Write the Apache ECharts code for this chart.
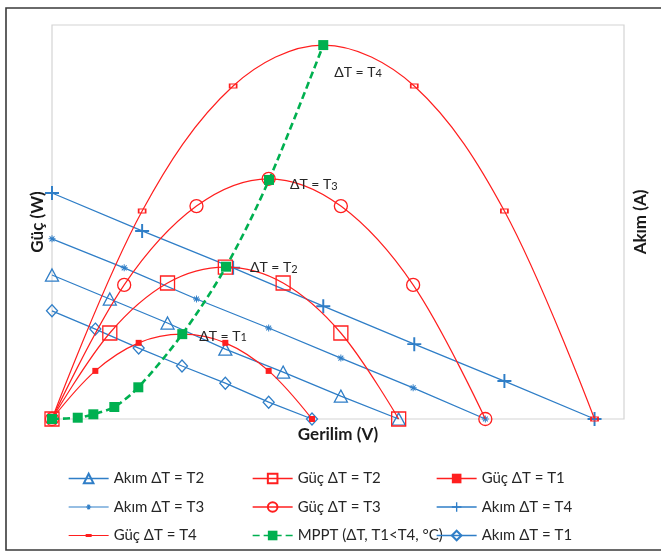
<!DOCTYPE html>
<html>
<head>
<meta charset="utf-8">
<script src="https://cdn.jsdelivr.net/npm/echarts@6/dist/echarts.min.js"></script>
<style>
html,body{margin:0;padding:0;background:#fff;}
#chart{width:661px;height:552px;}
</style>
</head>
<body>
<div id="chart"></div>
<script>
// ---- Data ----
// Gerilim (V)
const vT1 = [0, 5, 10, 15, 20, 25, 30];
const vT2 = [0, 6.67, 13.33, 20, 26.67, 33.33, 40];
const vT3 = [0, 8.33, 16.67, 25, 33.33, 41.67, 50];
const vT4 = [0, 10.4, 20.9, 31.3, 41.8, 52.2, 62.6];
// Akım (A)
const iT1 = [3.02, 2.51, 1.98, 1.48, 1.00, 0.47, 0];
const iT2 = [4.02, 3.35, 2.68, 1.95, 1.31, 0.64, 0];
const iT3 = [5.03, 4.22, 3.35, 2.54, 1.70, 0.87, 0];
const iT4 = [6.31, 5.25, 4.22, 3.15, 2.09, 1.06, 0];
// Güç (W)
const pT1 = [0, 12.7, 20.1, 22.4, 20.1, 12.7, 0];
const pT2 = [0, 22.7, 35.9, 40.1, 35.9, 22.7, 0];
const pT3 = [0, 35.4, 56.2, 63.4, 56.2, 35.4, 0];
const pT4 = [0, 54.9, 87.9, 98.7, 87.9, 54.9, 0];
// MPPT
const vMppt = [0, 2.97, 4.77, 7.19, 9.96, 15.03, 20.08, 25.04, 31.3];
const pMppt = [0, 0.34, 1.24, 3.17, 8.37, 22.4, 40.2, 63.1, 98.7];
// Peak labels: index into MPPT points, digit
const peakIdx = [5, 6, 7, 8];
const peakDigit = ['1', '2', '3', '4'];

const legendCol1 = ['Akım ΔT = T2', 'Akım ΔT = T3', 'Güç ΔT = T4'];
const legendCol2 = ['Güç ΔT = T2', 'Güç ΔT = T3', 'MPPT (ΔT, T1<T4, °C)'];
const legendCol3 = ['Güç ΔT = T1', 'Akım ΔT = T4', 'Akım ΔT = T1'];

// ---- styling ----
const BLUE = '#2F7EC7';
const RED = '#FF1F1F';
const GREEN = '#00B050';
const FONT = 'Lato, "Open Sans", sans-serif';
const zip = (a, b) => a.map((x, i) => [x, b[i]]);

const PLUS = 'path://M4.3,0h1.4v10h-1.4z M0,4.3h10v1.4h-10z';
const STAR = 'path://M4.3,0h1.4v10h-1.4z M0,4.3h10v1.4h-10z M1.0,2.0L2.0,1.0L9.0,8.0L8.0,9.0z M8.0,1.0L9.0,2.0L2.0,9.0L1.0,8.0z';
// legend icons: line with a tiny marker (corner specks keep the 40x12 box)
const T4_ICON = 'path://M0,0h0.01v0.01h-0.01z M39.99,11.99h0.01v0.01h-0.01z M0,5.5h17v1.1h-17z M17,4.4h6v3.2h-6z M23,5.5h17v1.1h-17z';
const STAR_ICON = 'path://M0,0h0.01v0.01h-0.01z M39.99,11.99h0.01v0.01h-0.01z M0,5.5h40v1.1h-40z M19.5,3.5h1v5h-1z M17.5,5.3h5v1.4h-5z M18.2,4.0L18.9,3.4L21.8,7.9L21.1,8.5z M21.1,3.4L21.8,4.0L18.9,8.5L18.2,7.9z';

function curSeries(name, v, i, symbol, size, hollow) {
  return {
    name, type: 'line', yAxisIndex: 1, data: zip(v, i),
    symbol, symbolSize: size, showAllSymbol: true,
    lineStyle: { color: BLUE, width: 1.3 },
    itemStyle: hollow ? { color: 'rgba(255,255,255,0)', borderColor: BLUE, borderWidth: 1.3 }
                      : { color: BLUE, borderWidth: 0 },
    z: 2
  };
}
function powSeries(name, v, p, symbol, size, hollow) {
  return {
    name, type: 'line', yAxisIndex: 0, data: zip(v, p),
    symbol, symbolSize: size, smooth: 0.35, showAllSymbol: true,
    lineStyle: { color: RED, width: 1.2 },
    itemStyle: hollow ? { color: 'rgba(255,255,255,0)', borderColor: RED, borderWidth: 1.3 }
                      : { color: RED, borderWidth: 0 },
    z: 3
  };
}

const labelOffsets = [[7, 2], [14, 1], [11, 5], [1, 27]];
const mpptData = zip(vMppt, pMppt).map((pt, k) => {
  const j = peakIdx.indexOf(k);
  if (j < 0) return pt;
  return {
    value: pt,
    label: {
      show: true, position: 'right', distance: 5, offset: labelOffsets[j],
      formatter: '{a|ΔT = T}{b|' + peakDigit[j] + '}',
      rich: {
        a: { fontSize: 14, fontFamily: FONT, color: '#262626' },
        b: { fontSize: 11, fontFamily: FONT, color: '#262626', verticalAlign: 'bottom', padding: [3, 0, 0, 0] }
      }
    }
  };
});

function legendItem(name) {
  if (name === 'Güç ΔT = T4') return { name, icon: T4_ICON, itemStyle: { color: RED, borderWidth: 0 } };
  if (name === 'Akım ΔT = T3') return { name, icon: STAR_ICON, itemStyle: { color: BLUE, borderWidth: 0 } };
  return { name };
}
function legend(left, names) {
  return {
    orient: 'vertical', left, top: 471, height: 120, padding: 0,
    itemWidth: 40, itemHeight: 12, itemGap: 13.5,
    data: names.map(legendItem), textStyle: { fontFamily: FONT, fontSize: 15, color: '#262626' },
    lineStyle: { width: 1.3 },
    selectedMode: false
  };
}

const axisNameStyle = { fontFamily: FONT, fontSize: 17, fontWeight: 'bold', color: '#1a1a1a' };

const option = {
  animation: false,
  backgroundColor: '#fff',
  grid: { left: 52, right: 37, top: 25, bottom: 133, show: true, borderColor: '#D4D4D4', borderWidth: 1.2 },
  xAxis: {
    type: 'value', min: 0, max: 66,
    name: 'Gerilim (V)', nameLocation: 'middle', nameGap: 7,
    nameTextStyle: Object.assign({ verticalAlign: 'top' }, axisNameStyle),
    axisLine: { show: false }, axisTick: { show: false }, axisLabel: { show: false }, splitLine: { show: false }
  },
  yAxis: [
    {
      type: 'value', min: 0, max: 104,
      name: 'Güç (W)', nameLocation: 'middle', nameGap: 6, nameRotate: 90,
      nameTextStyle: axisNameStyle,
      axisLine: { show: false }, axisTick: { show: false }, axisLabel: { show: false }, splitLine: { show: false }
    },
    {
      type: 'value', min: 0, max: 11, position: 'right',
      name: 'Akım (A)', nameLocation: 'middle', nameGap: 8, nameRotate: 90,
      nameTextStyle: axisNameStyle,
      axisLine: { show: false }, axisTick: { show: false }, axisLabel: { show: false }, splitLine: { show: false }
    }
  ],
  legend: [legend(68, legendCol1), legend(252, legendCol2), legend(436, legendCol3)],
  graphic: [{
    type: 'rect', shape: { x: 6, y: 8, width: 700, height: 542 },
    style: { fill: 'none', stroke: '#3a3a3a', lineWidth: 1.6 }, silent: true, z: -1
  }],
  series: [
    curSeries('Akım ΔT = T1', vT1, iT1, 'diamond', [11, 12], true),
    curSeries('Akım ΔT = T2', vT2, iT2, 'triangle', [13, 12], true),
    curSeries('Akım ΔT = T3', vT3, iT3, STAR, 7, false),
    curSeries('Akım ΔT = T4', vT4, iT4, PLUS, 14, false),
    powSeries('Güç ΔT = T1', vT1, pT1, 'rect', 6, false),
    powSeries('Güç ΔT = T2', vT2, pT2, 'rect', 14, true),
    powSeries('Güç ΔT = T3', vT3, pT3, 'circle', 13, true),
    powSeries('Güç ΔT = T4', vT4, pT4, 'rect', [7, 4], true),
    {
      name: 'MPPT (ΔT, T1<T4, °C)', type: 'line', yAxisIndex: 0, data: mpptData,
      symbol: 'rect', symbolSize: 10, smooth: 0.3, showAllSymbol: true,
      lineStyle: { color: GREEN, width: 2.6, type: [7, 4] },
      itemStyle: { color: GREEN, borderWidth: 0 },
      z: 5
    }
  ]
};

const chart = echarts.init(document.getElementById('chart'), null, { renderer: 'canvas' });
chart.setOption(option);
</script>
</body>
</html>
